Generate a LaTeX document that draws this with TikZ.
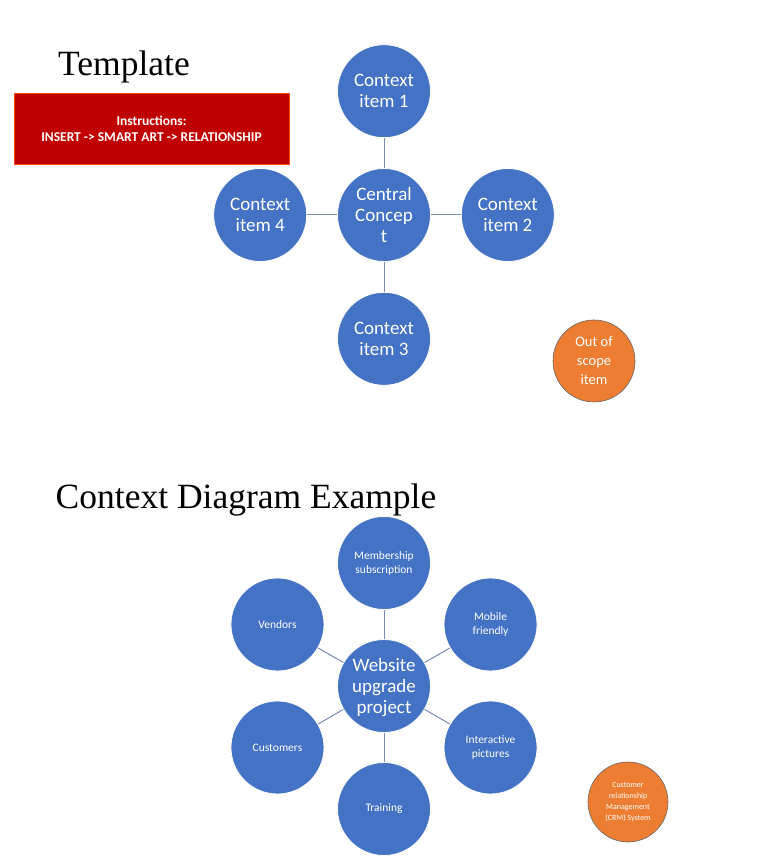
\documentclass[tikz,border=0pt]{standalone}
\usepackage{fontspec}
\setmainfont{Liberation Serif}
\newfontfamily\calibri{Carlito}
\usetikzlibrary{calc,positioning}
\definecolor{bubbleblue}{RGB}{68,114,196}
\definecolor{linkgray}{RGB}{122,140,180}
\definecolor{scopeorange}{RGB}{237,125,49}
\definecolor{noteRed}{RGB}{192,0,0}

\begin{document}
\begin{tikzpicture}[x=1pt, y=1pt, node distance=30pt, font=\calibri]
      \tikzstyle{bubble}=[circle,fill=bubbleblue,draw=white,line width=0.8pt,text=white,align=center,inner sep=0pt,minimum size=93pt]
      \tikzstyle{bigtxt}=[font=\calibri\fontsize{19}{21}\selectfont,text depth=-2pt]
      \tikzstyle{smalltxt}=[font=\calibri\fontsize{11.5}{14}\selectfont]
      \tikzstyle{outscope}=[circle,fill=scopeorange,draw=gray!80!black,line width=0.6pt,text=white,align=center,inner sep=0pt]
      \tikzstyle{link}=[draw=linkgray,line width=1pt]
      \tikzstyle{heading}=[font=\fontsize{35.5}{40}\selectfont]
      \useasboundingbox (0,0) rectangle (768,866);

      % template
      \node[heading] (tmpl) at (124,799) {Template};
      \node[rectangle,fill=noteRed,draw=orange!60!red,line width=0.6pt,text=white,align=center,
            minimum width=275pt,minimum height=71pt,inner sep=0pt,
            font=\calibri\bfseries\fontsize{13.5}{16}\selectfont] (instr) at (151.5,737.5)
            {Instructions:\\INSERT -> SMART ART -> RELATIONSHIP};

      \node[bubble,bigtxt] (ctr) at (384,651) {Central\\Concep\\t};
      \node[bubble,bigtxt,above=of ctr] (item1) {Context\\item 1};
      \node[bubble,bigtxt,right=of ctr] (item2) {Context\\item 2};
      \node[bubble,bigtxt,below=of ctr] (item3) {Context\\item 3};
      \node[bubble,bigtxt,left=of ctr] (item4) {Context\\item 4};
      \foreach \n in {item1,item2,item3,item4}
        \path[link] (ctr) -- (\n);

      \node[outscope,minimum size=82pt,font=\calibri\fontsize{14.5}{19}\selectfont] (oos) at (594,505) {Out of\\scope\\item};

      % example
      \node[heading] (exmp) at (246,366) {Context Diagram Example};
      \node[bubble,bigtxt] (web) at (384,180) {Website\\upgrade\\project};
      \node[bubble,smalltxt] (member) at ($(web)+(90:123)$) {Membership\\subscription};
      \node[bubble,smalltxt] (mobile) at ($(web)+(30:123)$) {Mobile\\friendly};
      \node[bubble,smalltxt] (pics) at ($(web)+(-30:123)$) {Interactive\\pictures};
      \node[bubble,smalltxt] (train) at ($(web)+(-90:123)$) {Training};
      \node[bubble,smalltxt] (cust) at ($(web)+(-150:123)$) {Customers};
      \node[bubble,smalltxt] (vend) at ($(web)+(150:123)$) {Vendors};
      \foreach \n in {member,mobile,pics,train,cust,vend}
        \path[link] (web) -- (\n);

      \node[outscope,minimum size=80pt,font=\calibri\fontsize{8}{11}\selectfont] (crm) at (628,64)
            {Customer\\relationship\\Management\\(CRM) System};

    \end{tikzpicture}
\end{document}
